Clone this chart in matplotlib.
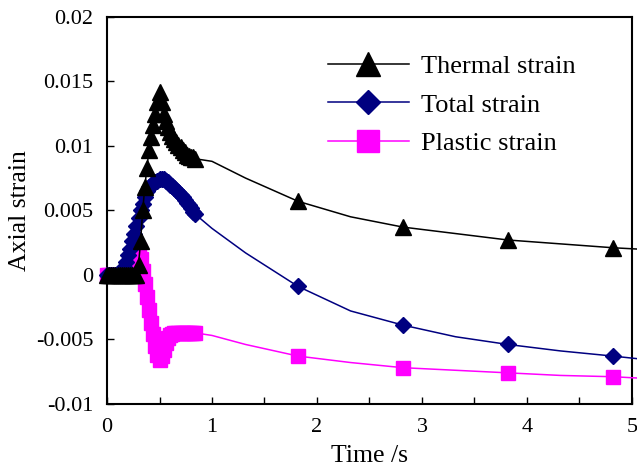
import numpy as np
import matplotlib
matplotlib.use("Agg")
import matplotlib.pyplot as plt
from matplotlib.ticker import MultipleLocator, FuncFormatter

plt.rcParams['font.family'] = ['Liberation Serif', 'DejaVu Serif']
plt.rcParams['axes.unicode_minus'] = False

# dense early part (every point marked)
t_dense = [0.00, 0.02, 0.04, 0.06, 0.08, 0.10, 0.12, 0.14, 0.16, 0.18,
           0.20, 0.22, 0.24, 0.26, 0.28, 0.30, 0.32, 0.34, 0.36, 0.38,
           0.40, 0.42, 0.44, 0.46, 0.48, 0.50, 0.52, 0.54, 0.56, 0.58,
           0.60, 0.62, 0.64, 0.66, 0.68, 0.70, 0.72, 0.74, 0.76, 0.78,
           0.80, 0.82, 0.84]
# later part (markers only at whole-second points)
t_late = [1.00, 1.32, 1.82, 2.32, 2.82, 3.32, 3.82, 4.32, 4.82, 5.05]
t_marked_late = [1.82, 2.82, 3.82, 4.82]

thermal_dense = [0, 0, 0, 0, 0, 0, 0, 0, 0, 0, 0, 0, 0, 0, 0,
                 0.0008, 0.0026, 0.0050, 0.0068, 0.0083, 0.0097, 0.0107, 0.0116, 0.0125, 0.0134,
                 0.0142, 0.0134, 0.0125, 0.0119, 0.0115, 0.0111, 0.0108, 0.0105, 0.0103, 0.0101,
                 0.0099, 0.0097, 0.0095, 0.0093, 0.0092, 0.0091, 0.0091, 0.0090]
thermal_late = [0.0088, 0.0075, 0.0057, 0.0045, 0.0037, 0.0032, 0.0027, 0.0024, 0.0021, 0.0020]

total_dense = [0, 0, 0, 0, 0, 0, 0,
               0.0002, 0.0006, 0.0010, 0.0015, 0.0020, 0.0026, 0.0032, 0.0038, 0.0044, 0.0050,
               0.0055, 0.0060, 0.0065, 0.0068, 0.0070, 0.0071, 0.0072, 0.0073, 0.0074, 0.0074,
               0.0074, 0.0073, 0.0072, 0.0070, 0.0069, 0.0067, 0.0066, 0.0064, 0.0062, 0.0060,
               0.0058, 0.0056, 0.0054, 0.0052, 0.0049, 0.0047]
total_late = [0.0036, 0.0017, -0.0009, -0.0028, -0.0039, -0.0048, -0.0054, -0.0059, -0.0063, -0.0065]

plastic_dense = [0, 0, 0, 0, 0, 0, 0, 0, 0, 0,
                 0.0002, 0.0005, 0.0009, 0.0013, 0.0016, 0.0019, 0.0012, 0.0003, -0.0007, -0.0017,
                 -0.0027, -0.0037, -0.0046, -0.0055, -0.0062, -0.0066, -0.0063, -0.0058, -0.0053, -0.0049,
                 -0.0047, -0.0046, -0.0045, -0.0045, -0.0045, -0.0045, -0.0045, -0.0045, -0.0045, -0.0045,
                 -0.0045, -0.0045, -0.0045]
plastic_late = [-0.0047, -0.0054, -0.0063, -0.0068, -0.0072, -0.0074, -0.0076, -0.0078, -0.0079, -0.0080]

t_all = t_dense + t_late
mark_idx = [i for i, t in enumerate(t_all) if t <= t_dense[-1] or t in t_marked_late]

fig = plt.figure(figsize=(6.37, 4.69), dpi=100)
ax = fig.add_axes([0.168, 0.139, 0.824, 0.825])

ax.plot(t_all, plastic_dense + plastic_late, color='#FF00FF', lw=1.1, marker='s', ms=10.5,
        markevery=mark_idx, clip_on=False, label='Plastic strain', zorder=3)
ax.plot(t_all, total_dense + total_late, color='#000080', lw=1.1, marker='D', ms=8.5,
        markevery=mark_idx, clip_on=False, label='Total strain', zorder=4)
ax.plot(t_all, thermal_dense + thermal_late, color='black', lw=1.1, marker='^', ms=11.5,
        markevery=mark_idx, clip_on=False, label='Thermal strain', zorder=5)

ax.set_xlim(0, 5)
ax.set_ylim(-0.01, 0.02)
ax.xaxis.set_major_locator(MultipleLocator(1))
ax.xaxis.set_minor_locator(MultipleLocator(0.5))
ax.yaxis.set_major_locator(MultipleLocator(0.005))
ax.yaxis.set_major_formatter(FuncFormatter(lambda v, p: '{:g}'.format(round(v, 4))))
ax.tick_params(axis='both', which='both', direction='in', top=False, right=False,
               length=5, width=1, labelsize=16, pad=10)
for s in ax.spines.values():
    s.set_linewidth(1.5)

ax.set_xlabel('Time /s', fontsize=18.5, labelpad=6)
ax.set_ylabel('Axial strain', fontsize=18.5, labelpad=3)

h, l = ax.get_legend_handles_labels()
ax.legend(h[::-1], l[::-1], loc='upper left', bbox_to_anchor=(0.40, 0.93), frameon=False,
          fontsize=19, handlelength=3.1, handletextpad=0.45, labelspacing=0.57,
          markerscale=1.45, borderaxespad=0)

fig.savefig('out.png', dpi=100)
